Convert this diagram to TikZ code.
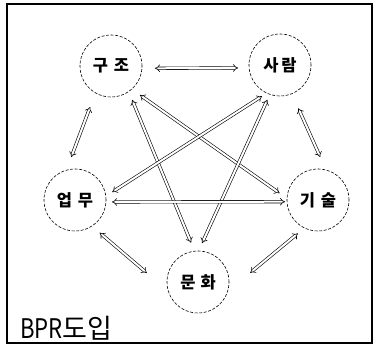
\documentclass[tikz,border=0pt]{standalone}
\usepackage{fontspec}
\newfontfamily\kr{Noto Sans CJK KR}
\usetikzlibrary{arrows.meta,calc}
\begin{document}
\begin{tikzpicture}[x=1pt,y=1pt,
  topic/.style={circle,draw=black,line width=0.6pt,dash pattern=on 3pt off 1.6pt,
    minimum size=62pt,inner sep=0pt,font=\kr\bfseries\fontsize{16.5}{18}\selectfont},
  dbl/.style={draw=black,line width=0.6pt,double=white,double distance=2pt,
    arrows={Implies[length=4pt]-Implies[length=4pt]}}]
\useasboundingbox (0,0) rectangle (378,-347);
\draw[line width=1.3pt] (7,-4) rectangle (372,-343);
\node[topic] (kujo) at (111,-66) {구\hspace{6pt}조};
\node[topic] (saram) at (280,-65) {사\hspace{3pt}람};
\node[topic] (upmu) at (75,-200) {업\hspace{6pt}무};
\node[topic] (kisul) at (318,-200) {기\hspace{6pt}술};
\node[topic] (munhwa) at (198,-282) {문\hspace{5pt}화};
\node[font=\kr\fontsize{27}{29}\selectfont,anchor=south west,inner sep=0pt] (bpr) at (20,-340) {\scalebox{0.82}[1]{BPR}도입};
% connectors
\draw[dbl] ([shift={(-3:44)}]kujo.center) -- ([shift={(184:42)}]saram.center);
\draw[dbl] ([shift={(243:46)}]kujo.center) -- ([shift={(95:43)}]upmu.center);
\draw[dbl] ([shift={(302:40)}]kujo.center) -- ([shift={(100:40)}]munhwa.center);
\draw[dbl] ([shift={(315:41)}]kujo.center) -- ([shift={(170:39)}]kisul.center);
\draw[dbl] ([shift={(240:36)}]saram.center) -- ([shift={(12:38)}]upmu.center);
\draw[dbl] ([shift={(250:37)}]saram.center) -- ([shift={(84:39)}]munhwa.center);
\draw[dbl] ([shift={(293:47)}]saram.center) -- ([shift={(87:43)}]kisul.center);
\draw[dbl] ([shift={(-3:37)}]upmu.center) -- ([shift={(183:33)}]kisul.center);
\draw[dbl] ([shift={(307:41)}]upmu.center) -- ([shift={(170:52)}]munhwa.center);
\draw[dbl] ([shift={(239:39)}]kisul.center) -- ([shift={(10:53)}]munhwa.center);
\end{tikzpicture}
\end{document}
